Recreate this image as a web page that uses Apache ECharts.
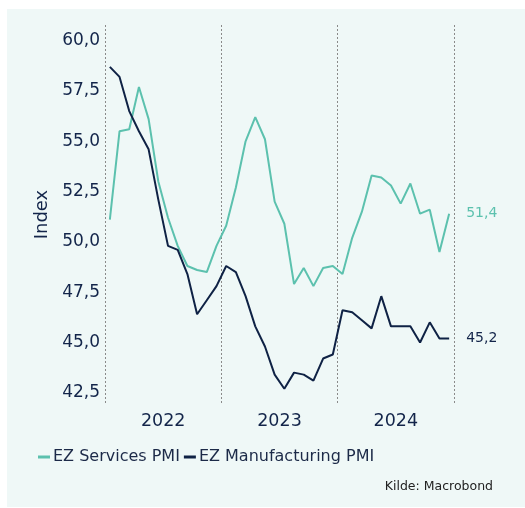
<!DOCTYPE html>
<html>
<head>
<meta charset="utf-8">
<script src="https://cdn.jsdelivr.net/npm/echarts@6/dist/echarts.min.js"></script>
<style>
html,body{margin:0;padding:0;background:#ffffff;}
#panel{position:absolute;left:7px;top:9px;width:518px;height:498px;background:#eff8f7;}
#chart{position:absolute;left:0;top:0;width:525px;height:508px;}
</style>
</head>
<body>
<div id="panel"></div>
<div id="chart"></div>
<script>
const years = ['2022', '2023', '2024'];
const yTicks = [42.5, 45.0, 47.5, 50.0, 52.5, 55.0, 57.5, 60.0];
const seriesNames = ['EZ Services PMI', 'EZ Manufacturing PMI'];
// monthly values Jan 2022 - Dec 2024
const services = [
  51.1, 55.5, 55.6, 57.7, 56.1, 53.0, 51.2, 49.8, 48.8, 48.6, 48.5, 49.8,
  50.8, 52.7, 55.0, 56.2, 55.1, 52.0, 50.9, 47.9, 48.7, 47.8, 48.7, 48.8,
  48.4, 50.2, 51.5, 53.3, 53.2, 52.8, 51.9, 52.9, 51.4, 51.6, 49.5, 51.4
];
const manufacturing = [
  58.7, 58.2, 56.5, 55.5, 54.6, 52.1, 49.8, 49.6, 48.4, 46.4, 47.1, 47.8,
  48.8, 48.5, 47.3, 45.8, 44.8, 43.4, 42.7, 43.5, 43.4, 43.1, 44.2, 44.4,
  46.6, 46.5, 46.1, 45.7, 47.3, 45.8, 45.8, 45.8, 45.0, 46.0, 45.2, 45.2
];

const FONT = 'DejaVu Sans';
const NAVY = '#13254a';
const TEAL = '#5cc1ae';
const MNAVY = '#0f2245';
const toPts = arr => arr.map((v, i) => [i + 0.5, v]);
const fmt = v => v.toFixed(1).replace('.', ',');

const chart = echarts.init(document.getElementById('chart'), null, {renderer: 'canvas'});
chart.setOption({
  backgroundColor: 'transparent',
  animation: false,
  textStyle: {fontFamily: FONT},
  title: {
    text: 'Kilde: Macrobond',
    right: 27, top: 475,
    textStyle: {fontFamily: FONT, fontSize: 12.5, fontWeight: 'normal', color: '#222222'}
  },
  legend: {
    left: 33, top: 444,
    itemGap: 4, itemWidth: 12, itemHeight: 3,
    icon: 'rect',
    data: seriesNames,
    textStyle: {fontFamily: FONT, fontSize: 16, color: '#1c2a48', padding: [0, 0, 0, -2]}
  },
  grid: {left: 105, right: 71, top: 25, bottom: 104, containLabel: false},
  xAxis: {
    type: 'value', min: 0, max: 36, interval: 12,
    axisLine: {show: false}, axisTick: {show: false},
    splitLine: {show: true, lineStyle: {color: '#8a8a8a', type: [2, 2], width: 1}},
    axisLabel: {
      customValues: [6, 18, 30],
      formatter: v => years[Math.round((v - 6) / 12)],
      fontFamily: FONT, fontSize: 17.5, color: NAVY, margin: 8
    }
  },
  yAxis: {
    type: 'value', min: 41.94, max: 60.78,
    name: 'Index', nameLocation: 'middle', nameGap: 52,
    nameTextStyle: {fontFamily: FONT, fontSize: 18, color: NAVY},
    axisLine: {show: false}, axisTick: {show: false},
    splitLine: {show: false},
    axisLabel: {
      customValues: yTicks,
      formatter: v => fmt(v),
      fontFamily: FONT, fontSize: 17, color: NAVY, margin: 5,
      padding: [5, 0, 0, 0]
    }
  },
  series: [
    {
      name: seriesNames[0], type: 'line', data: toPts(services),
      showSymbol: false, symbol: 'none',
      lineStyle: {color: TEAL, width: 2}, itemStyle: {color: TEAL},
      endLabel: {show: true, formatter: p => fmt(p.value[1]), color: TEAL,
        fontFamily: FONT, fontSize: 14, distance: 17}
    },
    {
      name: seriesNames[1], type: 'line', data: toPts(manufacturing),
      showSymbol: false, symbol: 'none',
      lineStyle: {color: MNAVY, width: 2}, itemStyle: {color: MNAVY},
      endLabel: {show: true, formatter: p => fmt(p.value[1]), color: NAVY,
        fontFamily: FONT, fontSize: 14, distance: 17}
    }
  ]
});
</script>
</body>
</html>
